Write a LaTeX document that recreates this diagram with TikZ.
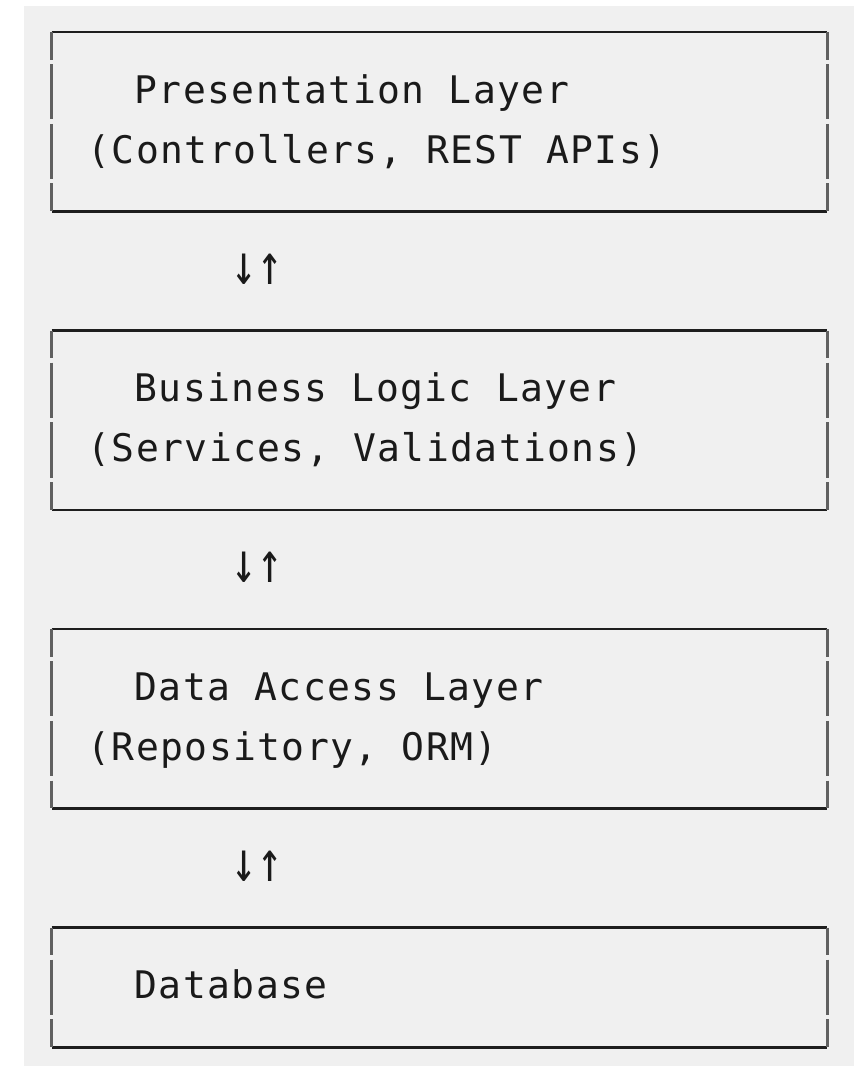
\documentclass[tikz,border=0pt]{standalone}
\usepackage{fontspec}
\usetikzlibrary{calc}
\newfontfamily\layerfont[LetterSpace=3.7]{DejaVu Sans Mono}
\newfontfamily\arrowfont{DejaVu Sans Mono}
\definecolor{paper}{HTML}{F0F0F0}
\definecolor{ink}{HTML}{1A1A1A}
\definecolor{hline}{HTML}{1E1E1E}
\definecolor{vline}{HTML}{606060}
\def\rh{59.706}
\def\gp{2.2}
\newcommand\layerframe[2]{% #1 = box node, #2 = number of text rows + 1
  \draw[hbar] (#1.north west) -- (#1.north east);
  \draw[hbar] (#1.south west) -- (#1.south east);
  \foreach \i in {0,...,#2} {
    \pgfmathsetmacro\ya{\i==0 ? 0 : (\i-0.5)*\rh+\gp}
    \pgfmathsetmacro\yb{\i==#2 ? #2*\rh : (\i+0.5)*\rh-\gp}
    \draw[vbar] ($(#1.north west)+(0,\ya)$) -- ($(#1.north west)+(0,\yb)$);
    \draw[vbar] ($(#1.north east)+(0,\ya)$) -- ($(#1.north east)+(0,\yb)$);
  }
}
\begin{document}
\begin{tikzpicture}[x=1pt,y=-1pt,
  layer/.style={anchor=north west,draw=none,inner sep=0pt,minimum width=775.5pt},
  caption/.style={anchor=base west,inner sep=0pt,text=ink,
    font=\layerfont\fontsize{38}{42}\selectfont},
  flow/.style={anchor=center,inner sep=0pt,text=ink,
    font=\arrowfont\fontsize{42}{48}\selectfont},
  hbar/.style={draw=hline,line width=2.3pt},
  vbar/.style={draw=vline,line width=3pt}]
\useasboundingbox (0,0) rectangle (854,1066);
\fill[white] (0,0) rectangle (854,1066);
\fill[paper] (24,6) rectangle (854,1066);

% the four layers, top to bottom
\node[layer,minimum height=3*\rh] (pres) at (51.5,32) {};
\node[layer,minimum height=3*\rh] (biz)  at (51.5,32+5*\rh) {};
\node[layer,minimum height=3*\rh] (dal)  at (51.5,32+10*\rh) {};
\node[layer,minimum height=2*\rh] (db)   at (51.5,32+15*\rh) {};

\layerframe{pres}{3}
\layerframe{biz}{3}
\layerframe{dal}{3}
\layerframe{db}{2}

% captions
\node[caption] (presA) at ($(pres.north west)+(83,71)$) {Presentation Layer};
\node[caption] (presB) at ($(pres.north west)+(36,131)$) {(Controllers, REST APIs)};
\node[caption] (bizA)  at ($(biz.north west)+(83,71)$) {Business Logic Layer};
\node[caption] (bizB)  at ($(biz.north west)+(36,131)$) {(Services, Validations)};
\node[caption] (dalA)  at ($(dal.north west)+(83,71)$) {Data Access Layer};
\node[caption] (dalB)  at ($(dal.north west)+(36,131)$) {(Repository, ORM)};
\node[caption] (dbA)   at ($(db.north west)+(83,71)$) {Database};

% two-way flow marks between the layers
\node[flow] (f1) at (257,32+4*\rh-2) {\scalebox{1}[1.35]{↓↑}};
\node[flow] (f2) at (257,32+9*\rh-2) {\scalebox{1}[1.35]{↓↑}};
\node[flow] (f3) at (257,32+14*\rh-2) {\scalebox{1}[1.35]{↓↑}};
\end{tikzpicture}
\end{document}
